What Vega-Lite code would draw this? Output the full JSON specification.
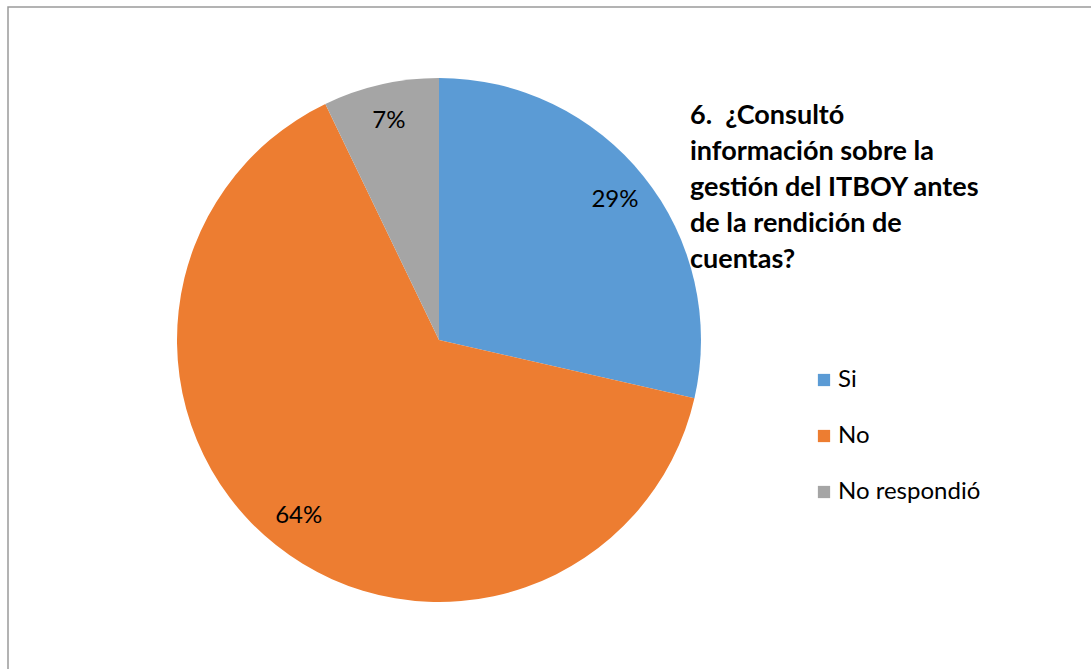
{
  "$schema": "https://vega.github.io/schema/vega-lite/v6.json",
  "width": 1200,
  "height": 800,
  "autosize": {"type": "none"},
  "padding": {"left": 8, "top": 7, "right": 0, "bottom": 0},
  "background": "white",
  "view": {"stroke": "#9a9a9a", "strokeWidth": 1.5, "fill": "white"},
  "config": {
    "font": "Lato"
  },
  "title": {
    "text": ["6.\u00a0\u00a0¿Consultó", "información sobre la", "gestión del ITBOY antes", "de la rendición de", "cuentas?"],
    "anchor": "start",
    "frame": "group",
    "orient": "top",
    "baseline": "top",
    "dx": 682,
    "dy": 267,
    "offset": 0,
    "fontSize": 27,
    "fontWeight": "bold",
    "font": "Lato",
    "color": "#000000",
    "lineHeight": 36
  },
  "data": {
    "values": [
      {"respuesta": "Si", "valor": 12, "etiqueta": "29%", "orden": 1},
      {"respuesta": "No", "valor": 27, "etiqueta": "64%", "orden": 2},
      {"respuesta": "No respondió", "valor": 3, "etiqueta": "7%", "orden": 3}
    ]
  },
  "encoding": {
    "theta": {"field": "valor", "type": "quantitative", "stack": true},
    "order": {"field": "orden", "type": "quantitative", "sort": "ascending"}
  },
  "layer": [
    {
      "mark": {"type": "arc", "outerRadius": 262, "x": 431, "y": 333},
      "encoding": {
        "color": {
          "field": "respuesta",
          "type": "nominal",
          "sort": ["Si", "No", "No respondió"],
          "scale": {"domain": ["Si", "No", "No respondió"], "range": ["#5B9BD5", "#ED7D31", "#A5A5A5"]},
          "legend": {
            "title": null,
            "orient": "none",
            "legendX": 804,
            "legendY": 361,
            "symbolType": "square",
            "symbolSize": 150,
            "symbolStrokeWidth": 0,
            "labelFontSize": 24,
            "labelFont": "Lato",
            "labelColor": "#000000",
            "rowPadding": 32,
            "labelOffset": 2
          }
        }
      }
    },
    {
      "mark": {"type": "text", "radius": 225, "x": 431, "y": 333, "fontSize": 24, "font": "Lato", "color": "#000000"},
      "encoding": {
        "text": {"field": "etiqueta"}
      }
    }
  ]
}
